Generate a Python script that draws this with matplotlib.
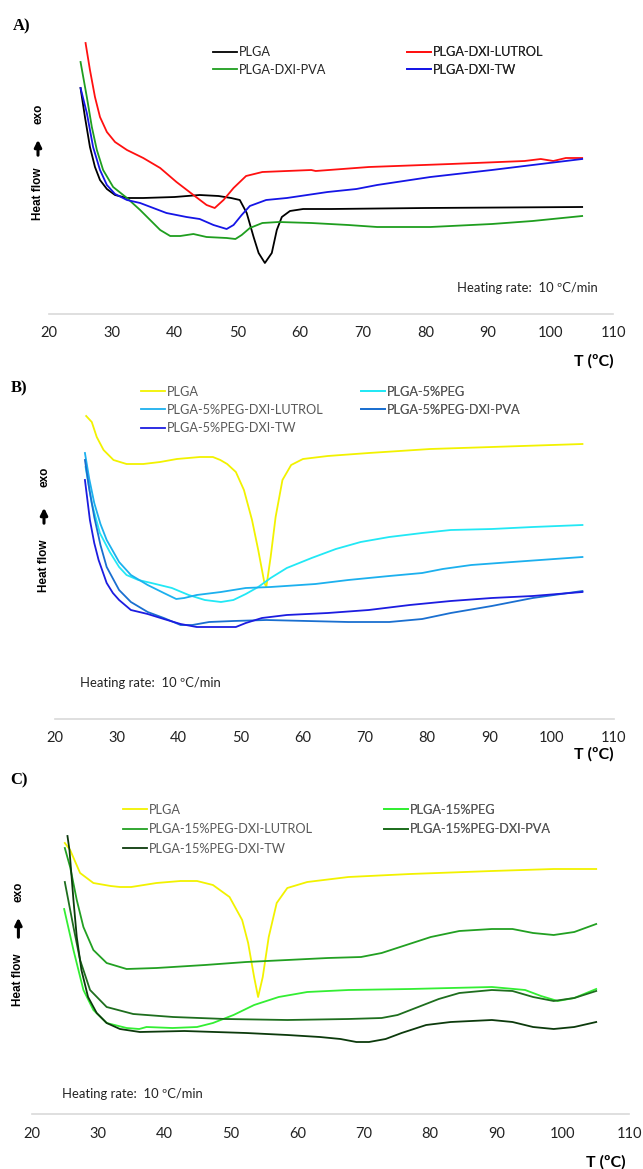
import matplotlib
matplotlib.use("Agg")
import matplotlib.pyplot as plt
from matplotlib.patches import FancyArrowPatch

TXT = "Lato"
LAB = "Liberation Sans"
SERIF = "Liberation Serif"

# ---------------- data: panel A ----------------
A_plga_T = [25, 25.7, 26.5, 27.3, 28.1, 29.2, 30.5, 32.4, 35, 40, 44, 47, 49, 50.4, 51.5, 52.6, 53.4, 54.4, 55.5, 56.3, 57.1, 58.4, 60.5, 65, 80, 105]
A_plga_y = [22.6, 19.7, 16.7, 14.7, 13.4, 12.5, 11.9, 11.6, 11.6, 11.7, 11.9, 11.8, 11.6, 11.4, 10.1, 7.7, 6.1, 5.1, 6.1, 8.4, 9.7, 10.3, 10.5, 10.5, 10.6, 10.7]
A_lut_T = [25.8, 26.5, 27.3, 28.1, 29.2, 30.5, 32.4, 35.0, 37.7, 40.3, 43.0, 45.1, 46.4, 47.8, 49.4, 51.4, 54, 57.9, 61.8, 62.5, 71, 84, 95.8, 98.4, 100.4, 102.4, 105]
A_lut_y = [27.1, 24.4, 21.7, 19.7, 18.2, 17.2, 16.4, 15.6, 14.6, 13.2, 11.9, 10.9, 10.6, 11.4, 12.6, 13.8, 14.2, 14.3, 14.4, 14.3, 14.7, 15.0, 15.3, 15.5, 15.3, 15.6, 15.6]
A_pva_T = [25.0, 26.0, 26.8, 27.6, 28.6, 30.2, 32.4, 34.5, 36.1, 37.7, 39.3, 40.9, 43.0, 45.1, 48.3, 49.7, 50.7, 52, 54, 56.6, 61.8, 67.7, 72.3, 80.8, 90.6, 97.1, 105]
A_pva_y = [25.2, 21.7, 18.7, 16.4, 14.4, 12.7, 11.6, 10.4, 9.4, 8.4, 7.8, 7.8, 8.0, 7.7, 7.6, 7.5, 7.9, 8.6, 9.1, 9.2, 9.1, 8.9, 8.7, 8.7, 9.0, 9.3, 9.8]
A_tw_T = [25, 26.0, 27.0, 28.1, 29.2, 30.5, 32.4, 34.5, 36.6, 38.7, 41.9, 44.0, 46.2, 48.3, 49.4, 50.7, 52, 54.6, 57.9, 64.4, 69, 72.3, 80.8, 90.6, 97.1, 105]
A_tw_y = [22.6, 20.1, 16.7, 14.4, 12.9, 12.0, 11.4, 11.1, 10.6, 10.1, 9.7, 9.5, 8.9, 8.5, 8.9, 9.9, 10.8, 11.4, 11.6, 12.2, 12.5, 12.9, 13.7, 14.4, 14.9, 15.5]

# ---------------- data: panel B ----------------
B_plga_T = [25.1, 26.0, 26.8, 27.9, 29.5, 31.6, 34.3, 37.0, 39.7, 43.4, 45.5, 46.7, 47.8, 49.2, 50.5, 51.8, 52.8, 53.8, 54.1, 54.8, 55.6, 56.7, 58.1, 60.0, 64.0, 70.6, 80.5, 90.4, 105]
B_plga_y = [30.3, 29.7, 28.2, 26.9, 25.9, 25.5, 25.5, 25.7, 26.0, 26.2, 26.2, 25.9, 25.5, 24.7, 22.9, 19.9, 16.9, 13.6, 13.2, 16.2, 20.2, 23.9, 25.4, 26.0, 26.3, 26.6, 27.0, 27.2, 27.5]
B_peg_T = [25.0, 26.0, 27.3, 28.9, 30.4, 31.6, 33.5, 35.6, 38.9, 41.6, 44.2, 46.8, 48.8, 50.8, 52.8, 54.8, 57.4, 61.4, 65.3, 69.3, 73.9, 79.2, 83.8, 90.4, 97.0, 105]
B_peg_y = [25.2, 21.6, 18.6, 16.7, 15.2, 14.4, 13.9, 13.6, 13.1, 12.4, 11.9, 11.7, 11.9, 12.5, 13.2, 14.1, 15.1, 16.1, 17.0, 17.7, 18.2, 18.6, 18.9, 19.0, 19.2, 19.4]
B_lut_T = [24.9, 25.6, 26.4, 27.4, 28.4, 30.4, 32.3, 35.0, 37.6, 39.6, 40.9, 42.9, 46.8, 50.8, 54.8, 62.0, 67.3, 73.9, 79.2, 82.5, 87.1, 93.7, 105]
B_lut_y = [26.6, 24.0, 21.6, 19.5, 17.9, 15.7, 14.4, 13.4, 12.6, 12.0, 12.1, 12.4, 12.7, 13.1, 13.2, 13.5, 13.9, 14.3, 14.6, 15.0, 15.4, 15.7, 16.2]
B_pva_T = [24.9, 25.6, 26.4, 27.4, 28.4, 30.4, 32.3, 35.0, 37.6, 40.3, 42.2, 44.9, 48.8, 54.1, 60.7, 67.3, 73.9, 79.2, 83.8, 90.4, 97.0, 105]
B_pva_y = [25.9, 23.0, 20.2, 17.4, 15.2, 12.9, 11.7, 10.7, 10.1, 9.4, 9.4, 9.7, 9.8, 9.9, 9.8, 9.7, 9.7, 10.0, 10.6, 11.3, 12.1, 12.8]
B_tw_T = [24.9, 25.7, 26.4, 27.1, 28.4, 29.4, 30.4, 32.3, 35.0, 37.6, 40.3, 42.9, 45.5, 49.2, 50.8, 53.4, 57.4, 64.0, 70.6, 77.2, 83.8, 90.4, 97.0, 105]
B_tw_y = [23.9, 19.9, 17.6, 15.9, 13.6, 12.6, 11.9, 10.9, 10.5, 10.0, 9.5, 9.2, 9.2, 9.2, 9.6, 10.1, 10.4, 10.6, 10.9, 11.4, 11.8, 12.1, 12.3, 12.7]

# ---------------- data: panel C ----------------
C_plga_T = [25, 25.8, 27.3, 29.3, 31.9, 33.3, 35.0, 38.8, 42.4, 44.9, 47.3, 49.8, 51.7, 52.6, 53.5, 54.1, 54.8, 55.7, 56.9, 58.5, 61.5, 67.7, 77.0, 89.3, 98.6, 105]
C_plga_y = [27.1, 26.4, 24.1, 23.1, 22.8, 22.7, 22.7, 23.1, 23.3, 23.3, 22.9, 21.7, 19.4, 17.1, 13.7, 11.7, 13.7, 17.7, 21.1, 22.6, 23.2, 23.7, 24.0, 24.3, 24.5, 24.5]
C_peg_T = [24.9, 26.3, 27.8, 29.3, 31.3, 34.3, 36.2, 37.3, 41.2, 44.9, 47.3, 50.4, 53.5, 57.2, 61.5, 67.7, 77.0, 83.1, 89.3, 94.3, 96.7, 99.2, 101.7, 105]
C_peg_y = [20.5, 16.4, 12.4, 10.4, 9.1, 8.6, 8.5, 8.7, 8.6, 8.7, 9.1, 9.9, 10.9, 11.7, 12.2, 12.4, 12.5, 12.6, 12.7, 12.4, 11.8, 11.3, 11.6, 12.5]
C_lut_T = [25, 25.8, 26.8, 27.8, 29.3, 31.3, 34.3, 38.8, 46.1, 52.3, 58.5, 64.6, 69.6, 72.7, 76.4, 80.1, 84.4, 89.3, 92.4, 95.5, 98.6, 101.7, 105]
C_lut_y = [26.6, 24.7, 21.4, 18.7, 16.4, 15.1, 14.5, 14.6, 14.9, 15.2, 15.4, 15.6, 15.7, 16.1, 16.9, 17.7, 18.3, 18.5, 18.5, 18.1, 17.9, 18.2, 19.0]
C_pva_T = [25.0, 26.3, 27.3, 28.8, 31.3, 35.3, 41.3, 49.2, 58.5, 67.7, 72.7, 75.1, 78.2, 81.3, 84.4, 89.3, 92.4, 95.5, 98.6, 101.7, 105]
C_pva_y = [23.2, 18.7, 15.4, 12.4, 10.7, 10.0, 9.7, 9.5, 9.4, 9.5, 9.6, 9.9, 10.7, 11.5, 12.1, 12.4, 12.3, 11.7, 11.3, 11.6, 12.3]
C_tw_T = [25.4, 25.7, 26.3, 26.8, 27.5, 28.5, 29.8, 31.3, 33.3, 36.3, 43.0, 52.3, 58.5, 63.4, 66.5, 68.9, 70.8, 73.3, 75.7, 79.4, 83.1, 89.3, 92.4, 95.5, 98.6, 101.7, 105]
C_tw_y = [27.8, 26.4, 21.4, 17.7, 14.4, 11.7, 10.1, 9.1, 8.5, 8.2, 8.3, 8.1, 7.9, 7.7, 7.5, 7.2, 7.2, 7.5, 8.1, 8.9, 9.2, 9.4, 9.2, 8.7, 8.5, 8.7, 9.2]

x_ticks = [20, 30, 40, 50, 60, 70, 80, 90, 100, 110]

W, H = 643, 1169
fig = plt.figure(figsize=(W / 100, H / 100), dpi=100)

def fx(x):
    return x / W

def fy(y):
    return 1 - y / H

def make_axes(left, right, bottom, ymax):
    height = ymax * 10
    ax = fig.add_axes([fx(left), fy(bottom), (right - left) / W, height / H])
    ax.set_xlim(20, 110)
    ax.set_ylim(0, ymax)
    for s in ["top", "right", "left"]:
        ax.spines[s].set_visible(False)
    ax.spines["bottom"].set_color("#d9d9d9")
    ax.spines["bottom"].set_linewidth(1.2)
    ax.set_yticks([])
    ax.set_xticks(x_ticks)
    ax.set_xticklabels([str(t) for t in x_ticks], fontfamily=TXT, fontsize=10.5, color="#222222")
    ax.tick_params(axis="x", length=0, pad=9)
    return ax

def heat_label(x, y_hf, y_arrow_bot, y_arrow_top, y_exo):
    fig.text(fx(x), fy(y_hf), "Heat flow", rotation=90, ha="center", va="center",
             fontfamily=LAB, fontweight="bold", fontsize=8.5)
    fig.text(fx(x), fy(y_exo), "exo", rotation=90, ha="center", va="center",
             fontfamily=LAB, fontweight="bold", fontsize=8.5)
    fig.add_artist(FancyArrowPatch(
        (fx(x), fy(y_arrow_bot)), (fx(x), fy(y_arrow_top)), transform=fig.transFigure,
        arrowstyle="-|>", mutation_scale=10, lw=2.2, color="black"))

def column_legend(ax, handles, x, y_first_row, color, spacing):
    leg = ax.legend(handles=handles, loc="upper left", bbox_to_anchor=(fx(x), fy(y_first_row - 6.5)),
                    bbox_transform=fig.transFigure, frameon=False, borderpad=0, borderaxespad=0,
                    handlelength=1.9, handletextpad=0.15, labelspacing=spacing,
                    prop={"family": TXT, "size": 9.2}, labelcolor=color)
    ax.add_artist(leg)
    return leg

def panel_texts(tag, tag_xy, rate_xy, t_xy):
    fig.text(fx(tag_xy[0]), fy(tag_xy[1]), tag, fontfamily=SERIF, fontweight="bold", fontsize=12,
             ha="center", va="center")
    fig.text(fx(rate_xy[0]), fy(rate_xy[1]), "Heating rate:  10 ºC/min", fontfamily=TXT, fontsize=9.4,
             ha="left", va="center", color="#222222")
    fig.text(fx(t_xy[0]), fy(t_xy[1]), "T (ºC)", fontfamily=TXT, fontweight="bold", fontsize=11.5,
             ha="center", va="center")

lw = 1.3

# ---------------- Panel A ----------------
axA = make_axes(49.2, 613.5, 314, 30)
lA1, = axA.plot(A_plga_T, A_plga_y, color="black", lw=lw, label="PLGA")
lA2, = axA.plot(A_lut_T, A_lut_y, color="#ff1010", lw=lw, label="PLGA-DXI-LUTROL")
lA3, = axA.plot(A_pva_T, A_pva_y, color="#1f9e1f", lw=lw, label="PLGA-DXI-PVA")
lA4, = axA.plot(A_tw_T, A_tw_y, color="#1515e6", lw=lw, label="PLGA-DXI-TW")
column_legend(axA, [lA1, lA3], 213, 53, "#262626", 0.42)
column_legend(axA, [lA2, lA4], 407, 53, "#262626", 0.42)
panel_texts("A)", (22, 26), (457, 288), (594, 361))
heat_label(38, 194, 158, 137, 114)

# ---------------- Panel B ----------------
axB = make_axes(54.5, 613.5, 719, 33)
lB1, = axB.plot(B_plga_T, B_plga_y, color="#f2f200", lw=lw, label="PLGA")
lB2, = axB.plot(B_peg_T, B_peg_y, color="#22e8f5", lw=lw, label="PLGA-5%PEG")
lB3, = axB.plot(B_lut_T, B_lut_y, color="#1cb0ee", lw=lw, label="PLGA-5%PEG-DXI-LUTROL")
lB4, = axB.plot(B_pva_T, B_pva_y, color="#1a6fd0", lw=lw, label="PLGA-5%PEG-DXI-PVA")
lB5, = axB.plot(B_tw_T, B_tw_y, color="#1c1ce0", lw=lw, label="PLGA-5%PEG-DXI-TW")
column_legend(axB, [lB1, lB3, lB5], 141, 392, "#595959", 0.5)
column_legend(axB, [lB2, lB4], 361, 392, "#595959", 0.5)
panel_texts("B)", (19, 388), (80, 683), (594, 754))
heat_label(44, 566, 526, 505, 477)

# ---------------- Panel C ----------------
axC = make_axes(31.6, 629.4, 1114, 30)
lC1, = axC.plot(C_plga_T, C_plga_y, color="#f2f200", lw=lw, label="PLGA")
lC2, = axC.plot(C_peg_T, C_peg_y, color="#33ee33", lw=lw, label="PLGA-15%PEG")
lC3, = axC.plot(C_lut_T, C_lut_y, color="#22a022", lw=lw, label="PLGA-15%PEG-DXI-LUTROL")
lC4, = axC.plot(C_pva_T, C_pva_y, color="#1e6e1e", lw=lw, label="PLGA-15%PEG-DXI-PVA")
lC5, = axC.plot(C_tw_T, C_tw_y, color="#0c3a0c", lw=lw, label="PLGA-15%PEG-DXI-TW")
column_legend(axC, [lC1, lC3, lC5], 123, 810, "#595959", 0.59)
column_legend(axC, [lC2, lC4], 384, 810, "#595959", 0.59)
panel_texts("C)", (19, 780), (62, 1094), (606, 1162))
heat_label(18.4, 980, 940, 915, 892)

fig.savefig("out.png", dpi=100)
